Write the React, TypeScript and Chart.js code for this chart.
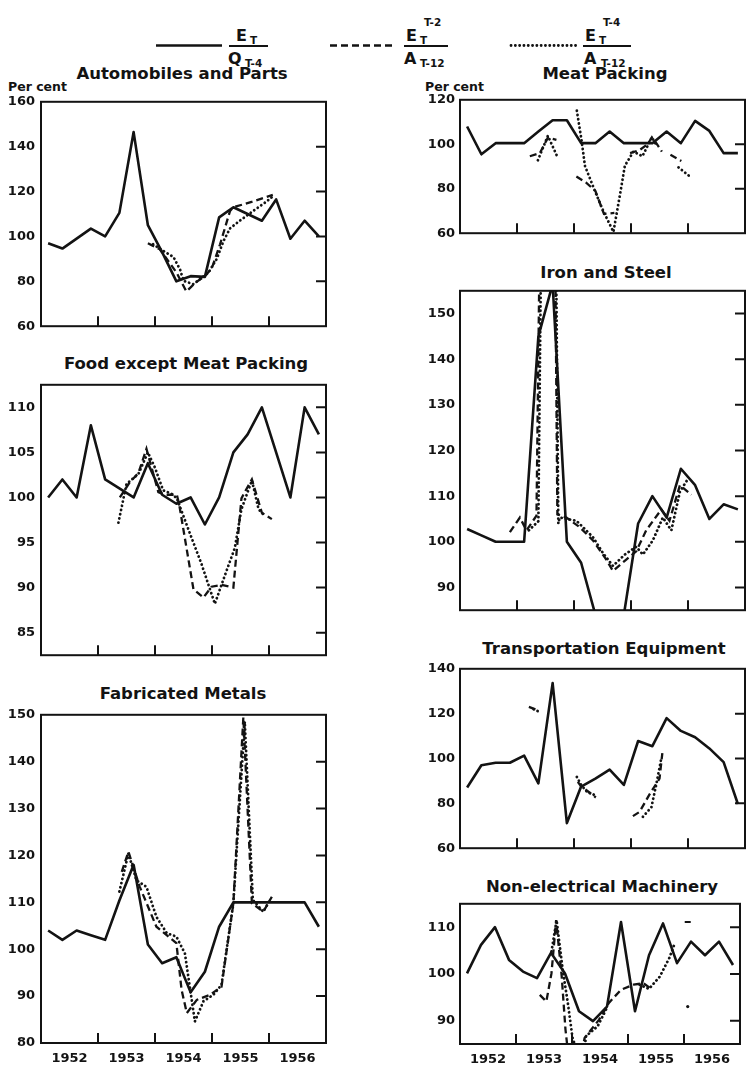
import React, { useEffect, useRef } from 'react';
import { Chart, registerables } from 'chart.js';

Chart.register(...registerables);

const INK = '#131313';
const FONT = "'DejaVu Sans', 'Liberation Sans', sans-serif";
Chart.defaults.font.family = FONT;
Chart.defaults.color = INK;

// x axis: months from January 1952 (0..60); quarterly points sit at quarter centres
const quarterX = Array.from({ length: 20 }, (_, k) => 3 * k + 1.5);
const yearLabels = ['1952', '1953', '1954', '1955', '1956'];
const yearCenters = [6, 18, 30, 42, 54];
const yearBounds = [12, 24, 36, 48];

// ---- Automobiles and Parts
const autoSolid = [97, 94.6, 99, 103.5, 100, 110.5, 146.5, 105, 93, 80, 82.3, 82, 108.5, 113, 110, 107, 116.5, 99, 107, 100];
const autoDashX = [22.5, 25, 28.5, 30.6, 31.5, 32.5, 34.5, 36, 37.7, 39.8, 40.5, 44.5, 48.8];
const autoDashY = [97, 94.3, 84, 75.5, 77.3, 79.4, 82.3, 86, 96.5, 111.4, 113, 115.5, 118.5];
const autoDotX = [23.6, 25.7, 27.9, 29.3, 30, 32.1, 33.8, 35.2, 37, 38.4, 39.8, 41.9, 44.7, 47.5, 48.9];
const autoDotY = [96.5, 93.6, 90.8, 85.1, 80.2, 78.7, 81.6, 83.7, 90, 97.9, 103.6, 107.1, 111.4, 115.6, 118];

// ---- Food except Meat Packing
const foodSolid = [100, 102, 100, 108, 102, 101, 100, 103.8, 100.3, 99.3, 100, 97, 100, 105, 107, 110, 105, 100, 110, 107];
const foodDashX = [16.6, 18.7, 20.5, 22.2, 24.7, 26.1, 28.6, 29.1, 32.1, 34.2, 35.9, 38, 40.5, 42.2, 42.9, 44.4, 46.5, 48.6];
const foodDashY = [100, 101.7, 102.7, 105.4, 100.6, 100.3, 100.3, 99.2, 89.8, 88.9, 90.1, 90.3, 90, 99.9, 100.6, 102, 98.3, 97.6];
const foodDotX = [16.3, 18, 20.5, 22.5, 24, 25.7, 27.5, 28.6, 31, 33.8, 36.6, 38.4, 40.8, 42.2, 44.4, 45.8, 47];
const foodDotY = [97.2, 101.5, 102.6, 105, 103.3, 100.8, 100.4, 99.9, 96.5, 92.6, 88.2, 90.9, 94.4, 98.7, 101.9, 98.7, 98];

// ---- Fabricated Metals
const fabSolid = [104, 102, 104, 103, 102, 110.4, 118, 101, 97, 98.3, 90.8, 95.2, 104.8, 110, 110, 110, 110, 110, 110, 104.8];
const fabDashX = [17, 18.4, 20.8, 24.3, 28.5, 29.6, 30.7, 32.8, 35.6, 38, 40.5, 42.6, 44.4, 46.8, 48.6];
const fabDashY = [116.5, 120.8, 113.3, 104.8, 101.3, 91.3, 86.4, 89.2, 90.3, 92, 109.8, 149.5, 109.8, 108, 111.2];
const fabDotX = [16.5, 18.4, 20.1, 22.2, 24.3, 26.5, 28.5, 30.3, 32.4, 34.2, 36.3, 38, 40.5, 42.9, 44.6, 46.8, 48.2];
const fabDotY = [112.3, 120.4, 114.7, 113.3, 106.9, 103.4, 102.7, 99.1, 84.6, 88.9, 90.3, 92.4, 109.8, 148.5, 110.5, 108, 110.5];

// ---- Meat Packing
const meatSolid = [108, 95.5, 100.5, 100.5, 100.5, 105.7, 110.8, 110.8, 100.5, 100.5, 105.7, 100.5, 100.5, 100.5, 105.7, 100.5, 110.5, 106, 96, 96];
const meatDashX = [14.7, 16.8, 18.5, 20.3, null, 24.5, 26.5, 28.5, 30.3, 32.5, null, 35.8, 37.8, 39.5, 40.4, 41.4, 42.5, null, 44.3, 46.6];
const meatDashY = [94.6, 96, 103, 102, null, 85.5, 82.8, 79, 68.7, 69.1, null, 96, 97.4, 100, 103.1, 100.3, 96.7, null, 95.3, 92.5];
const meatDotX = [16.4, 18.5, 20.6, null, 24.6, 25.6, 26.3, 28.4, 30.2, 32.3, 33.7, 34.7, 36.5, 38.4, 40.4, 41.5, null, 46, 48.4];
const meatDotY = [92.8, 103.8, 93.9, null, 115.1, 101.7, 90.3, 79, 69.8, 60.6, 77.6, 90.3, 96.7, 94.6, 103.1, 99, null, 89.6, 85.5];

// ---- Iron and Steel
const ironSolid = [102.8, 101.4, 100, 100, 100, 145, 156.5, 100, 95.4, 84, 80, 84, 104, 110, 105.3, 116, 112.4, 105, 108.2, 107.1];
const ironDashX = [10.5, 12.6, 14, 16.1, 17.5, 19.5, 20.5, 22.4, 25.2, 28, 30.8, 32.2, 35, 37.1, 39.2, 42.4, 44.1, 46.3, 48.7];
const ironDashY = [102.1, 105.3, 102.5, 105.7, 230, 230, 106, 105.3, 103.2, 100.3, 96.1, 93.6, 96.1, 97.9, 102.5, 107.1, 104.6, 112.4, 110.3];
const ironDotX = [14.5, 16.5, 17.7, 19.7, 20.7, 21, 24.5, 28, 30.1, 32.2, 34.7, 37.1, 38.5, 40.6, 42.7, 44.5, 46.3, 48];
const ironDotY = [102.5, 104.5, 230, 230, 104, 105.3, 104.6, 101, 97.5, 94.7, 97.2, 98.9, 97.2, 100.3, 105.3, 102.5, 111, 113.8];

// ---- Transportation Equipment
const transSolid = [87.1, 97, 98.1, 98.1, 101.3, 88.9, 133.6, 71.2, 87.5, 91, 95, 88.2, 107.8, 105.5, 118, 112.3, 109.5, 104.5, 98.4, 79.7];
const transDashX = [14.5, 16.4, null, 24.8, 25.5, 26.9, 28.6, null, 36.4, 37.8, 39.9, 42, 42.6];
const transDashY = [123, 121.5, null, 89.6, 87.5, 85.4, 82.6, null, 74.3, 76.2, 84, 91, 102.4];
const transDotX = [15.5, 16.5, null, 24.6, 25.5, 26.9, 28, 28.6, null, 38.5, 40.3, 41.3, 42.4];
const transDotY = [122, 121, null, 91.8, 88.2, 84.7, 84.3, 82.6, null, 74, 78.3, 88.2, 100.3];

// ---- Non-electrical Machinery
const nonSolid = [100.1, 106.2, 110, 103, 100.5, 99.1, 104.5, 100.1, 92, 89.9, 93, 111.1, 92, 104, 110.8, 102.3, 106.9, 104, 106.9, 101.9];
const nonDashX = [17.1, 18.5, 19.6, 20.6, 21.8, 22.6, 23.5, 25.5, 26.7, 29.8, 31.9, 34.5, 37.2, 39.3, 41, null, 48.8];
const nonDashY = [95.5, 94.1, 100.1, 111.5, 99.4, 88.1, 80, 80, 86.3, 90.2, 93.8, 96.6, 97.7, 98, 96.8, null, 111.1];
const nonDotX = [19.6, 20.7, 22, 23.1, 24.1, 25.5, 26.5, 27, 29.5, 31.6, null, 38.5, 40.5, 42.8, 44.9, 46, null, 48.8];
const nonDotY = [104.8, 111.5, 100.9, 93.8, 86.4, 82, 82, 86.7, 88.8, 93, null, 97.7, 96.8, 99.4, 103.5, 106.5, null, 93];

type PanelSpec = {
  key: string; title: string; col: 0 | 1; top: number; bottom: number;
  min: number; max: number; yTicks: number[];
  solid: number[]; dashX: (number | null)[]; dashY: (number | null)[];
  dotX: (number | null)[]; dotY: (number | null)[];
  years: boolean; perCent: boolean; titleX: number; titleY: number;
};

const PANELS: PanelSpec[] = [
  { key: 'auto', title: 'Automobiles and Parts', col: 0, top: 100, bottom: 336, min: 60, max: 160, yTicks: [60, 80, 100, 120, 140, 160],
    solid: autoSolid, dashX: autoDashX, dashY: autoDashY, dotX: autoDotX, dotY: autoDotY, years: false, perCent: true, titleX: 182, titleY: 74 },
  { key: 'food', title: 'Food except Meat Packing', col: 0, top: 383, bottom: 665, min: 82.5, max: 112.5, yTicks: [85, 90, 95, 100, 105, 110],
    solid: foodSolid, dashX: foodDashX, dashY: foodDashY, dotX: foodDotX, dotY: foodDotY, years: false, perCent: false, titleX: 186, titleY: 364 },
  { key: 'fab', title: 'Fabricated Metals', col: 0, top: 713, bottom: 1043, min: 80, max: 150, yTicks: [80, 90, 100, 110, 120, 130, 140, 150],
    solid: fabSolid, dashX: fabDashX, dashY: fabDashY, dotX: fabDotX, dotY: fabDotY, years: true, perCent: false, titleX: 183, titleY: 694 },
  { key: 'meat', title: 'Meat Packing', col: 1, top: 99, bottom: 242, min: 60, max: 120, yTicks: [60, 80, 100, 120],
    solid: meatSolid, dashX: meatDashX, dashY: meatDashY, dotX: meatDotX, dotY: meatDotY, years: false, perCent: true, titleX: 605, titleY: 74 },
  { key: 'iron', title: 'Iron and Steel', col: 1, top: 290, bottom: 619, min: 85, max: 155, yTicks: [90, 100, 110, 120, 130, 140, 150],
    solid: ironSolid, dashX: ironDashX, dashY: ironDashY, dotX: ironDotX, dotY: ironDotY, years: false, perCent: false, titleX: 606, titleY: 273 },
  { key: 'trans', title: 'Transportation Equipment', col: 1, top: 668, bottom: 857, min: 60, max: 140, yTicks: [60, 80, 100, 120, 140],
    solid: transSolid, dashX: transDashX, dashY: transDashY, dotX: transDotX, dotY: transDotY, years: false, perCent: false, titleX: 604, titleY: 649 },
  { key: 'non', title: 'Non-electrical Machinery', col: 1, top: 903, bottom: 1044, min: 85, max: 115, yTicks: [90, 100, 110],
    solid: nonSolid, dashX: nonDashX, dashY: nonDashY, dotX: nonDotX, dotY: nonDotY, years: true, perCent: false, titleX: 602, titleY: 887 },
];

const COL_LEFT = [0, 373];
const PLOT_LEFT = [41, 460];
const PLOT_RIGHT = [326, 745];
const CANVAS_W = 373;
const PADT = 12;
const TICK_FONT = { size: 13, family: FONT, weight: 'bold' as const };

const framePlugin = {
  id: 'frame',
  afterDraw(chart: any, _args: any, opts: any) {
    const { ctx, chartArea: a, scales } = chart;
    ctx.save();
    ctx.strokeStyle = INK;
    ctx.lineWidth = 2;
    ctx.strokeRect(a.left, a.top, a.right - a.left, a.bottom - a.top);
    ctx.lineWidth = 2;
    ctx.beginPath();
    for (const v of opts.yTicks as number[]) {
      if (v <= scales.y.min || v >= scales.y.max) continue;
      const y = scales.y.getPixelForValue(v);
      ctx.moveTo(a.right - 10, y);
      ctx.lineTo(a.right, y);
    }
    for (const m of yearBounds) {
      const x = scales.x.getPixelForValue(m);
      ctx.moveTo(x, a.bottom);
      ctx.lineTo(x, a.bottom - 10);
    }
    ctx.stroke();
    ctx.restore();
  },
};

function pairs(xs: (number | null)[], ys: (number | null)[]) {
  let last = 0;
  return xs.map((x, i) => {
    if (x != null) last = x;
    return { x: x == null ? last : x, y: ys[i] };
  });
}

function isolated(ctx: any) {
  const d = ctx.dataset.data;
  const i = ctx.dataIndex;
  const p = d[i - 1];
  const n = d[i + 1];
  return (!p || p.y == null) && (!n || n.y == null) && d[i] && d[i].y != null;
}

function Panel({ spec }: { spec: PanelSpec }) {
  const ref = useRef<HTMLCanvasElement | null>(null);
  const bottomRoom = spec.years ? 24 : 4;
  const h = PADT + (spec.bottom - spec.top) + bottomRoom;
  const axisW = PLOT_LEFT[spec.col] - COL_LEFT[spec.col];
  const padRight = CANVAS_W - (PLOT_RIGHT[spec.col] - COL_LEFT[spec.col]);

  useEffect(() => {
    if (!ref.current) return;
    const chart = new Chart(ref.current, {
      type: 'line',
      data: {
        datasets: [
          {
            data: spec.solid.map((v, i) => ({ x: quarterX[i], y: v })),
            borderColor: INK, borderWidth: 2.6, pointRadius: 0, tension: 0, clip: 0,
            borderJoinStyle: 'round',
          },
          {
            data: pairs(spec.dashX, spec.dashY),
            borderColor: INK, borderWidth: 2.3, borderDash: [7, 4], pointRadius: (c: any) => (isolated(c) ? 3 : 0),
            pointStyle: 'line', pointBorderColor: INK, pointBorderWidth: 2, tension: 0, clip: 0, spanGaps: false,
          },
          {
            data: pairs(spec.dotX, spec.dotY),
            borderColor: INK, borderWidth: 2.8, borderDash: [0.1, 4.2], borderCapStyle: 'round',
            pointRadius: (c: any) => (isolated(c) ? 1.6 : 0), pointStyle: 'circle', pointBackgroundColor: INK,
            pointBorderWidth: 0, tension: 0, clip: 0, spanGaps: false,
          },
        ] as any,
      },
      options: {
        responsive: false,
        animation: false,
        devicePixelRatio: 1,
        events: [],
        layout: { padding: { top: PADT, right: padRight, left: 0, bottom: 0 } },
        plugins: { legend: { display: false }, tooltip: { enabled: false }, frame: { yTicks: spec.yTicks } } as any,
        scales: {
          x: {
            type: 'linear', min: 0, max: 60,
            grid: { display: false, drawTicks: false, tickLength: 0 },
            border: { display: false },
            afterBuildTicks: (s: any) => { s.ticks = yearCenters.map((v) => ({ value: v })); },
            afterFit: (s: any) => { s.height = bottomRoom; },
            ticks: {
              display: spec.years, autoSkip: false, maxRotation: 0, padding: 8,
              font: TICK_FONT, color: INK,
              callback: (v: any) => yearLabels[yearCenters.indexOf(Number(v))],
            },
          },
          y: {
            type: 'linear', min: spec.min, max: spec.max,
            grid: { display: false, drawTicks: false, tickLength: 0 },
            border: { display: false },
            afterBuildTicks: (s: any) => { s.ticks = spec.yTicks.map((v) => ({ value: v })); },
            afterFit: (s: any) => { s.width = axisW; },
            ticks: { padding: spec.col ? 5 : 6, font: TICK_FONT, color: INK, callback: (v: any) => String(v) },
          },
        },
      } as any,
      plugins: [framePlugin],
    });
    return () => chart.destroy();
  }, []);

  return (
    <canvas
      ref={ref}
      width={CANVAS_W}
      height={h}
      style={{ position: 'absolute', left: COL_LEFT[spec.col], top: spec.top - PADT, width: CANVAS_W, height: h }}
    />
  );
}

const txt = (left: number, top: number, size: number, s: string, extra: any = {}) => (
  <div style={{ position: 'absolute', left, top, fontSize: size, lineHeight: 1, whiteSpace: 'nowrap', fontWeight: 'bold', ...extra }}>{s}</div>
);

function Legend() {
  const bar = (x1: number, x2: number) => (
    <div style={{ position: 'absolute', left: x1, top: 45, width: x2 - x1, height: 2, background: INK }} />
  );
  return (
    <>
      <svg width={746} height={70} style={{ position: 'absolute', left: 0, top: 0 }}>
        <line x1={156} y1={45.5} x2={222} y2={45.5} stroke={INK} strokeWidth={2.6} />
        <line x1={330} y1={45.5} x2={393} y2={45.5} stroke={INK} strokeWidth={2.4} strokeDasharray="7 4" />
        <line x1={511} y1={45.5} x2={576} y2={45.5} stroke={INK} strokeWidth={2.8} strokeDasharray="0.1 4.2" strokeLinecap="round" />
      </svg>
      {/* E_T / Q_{T-4} */}
      {txt(236, 28, 16, 'E')}
      {txt(250, 35, 10.5, 'T')}
      {bar(229, 268)}
      {txt(228, 51, 16, 'Q')}
      {txt(245, 58, 10.5, 'T-4')}
      {/* E_T^{T-2} / A_{T-12} */}
      {txt(406, 28, 16, 'E')}
      {txt(420, 35, 10.5, 'T')}
      {txt(424, 17, 10.5, 'T-2')}
      {bar(404, 448)}
      {txt(404, 51, 16, 'A')}
      {txt(420, 58, 10.5, 'T-12')}
      {/* E_T^{T-4} / A_{T-12} */}
      {txt(585, 28, 16, 'E')}
      {txt(599, 35, 10.5, 'T')}
      {txt(603, 17, 10.5, 'T-4')}
      {bar(583, 631)}
      {txt(584, 51, 16, 'A')}
      {txt(601, 58, 10.5, 'T-12')}
    </>
  );
}

export default function App() {
  return (
    <div
      style={{
        position: 'absolute', left: 0, top: 0, width: 746, height: 1066, background: '#fff',
        fontFamily: FONT, color: INK, overflow: 'hidden',
      }}
    >
      <Legend />
      {PANELS.map((p) => (
        <React.Fragment key={p.key}>
          <div
            style={{
              position: 'absolute', left: p.titleX, top: p.titleY, transform: 'translate(-50%, -50%)',
              fontSize: 16.5, fontWeight: 'bold', whiteSpace: 'nowrap', lineHeight: 1,
            }}
          >
            {p.title}
          </div>
          {p.perCent && txt(p.col ? 425 : 8, 81, 12.5, 'Per cent')}
          <Panel spec={p} />
        </React.Fragment>
      ))}
    </div>
  );
}
